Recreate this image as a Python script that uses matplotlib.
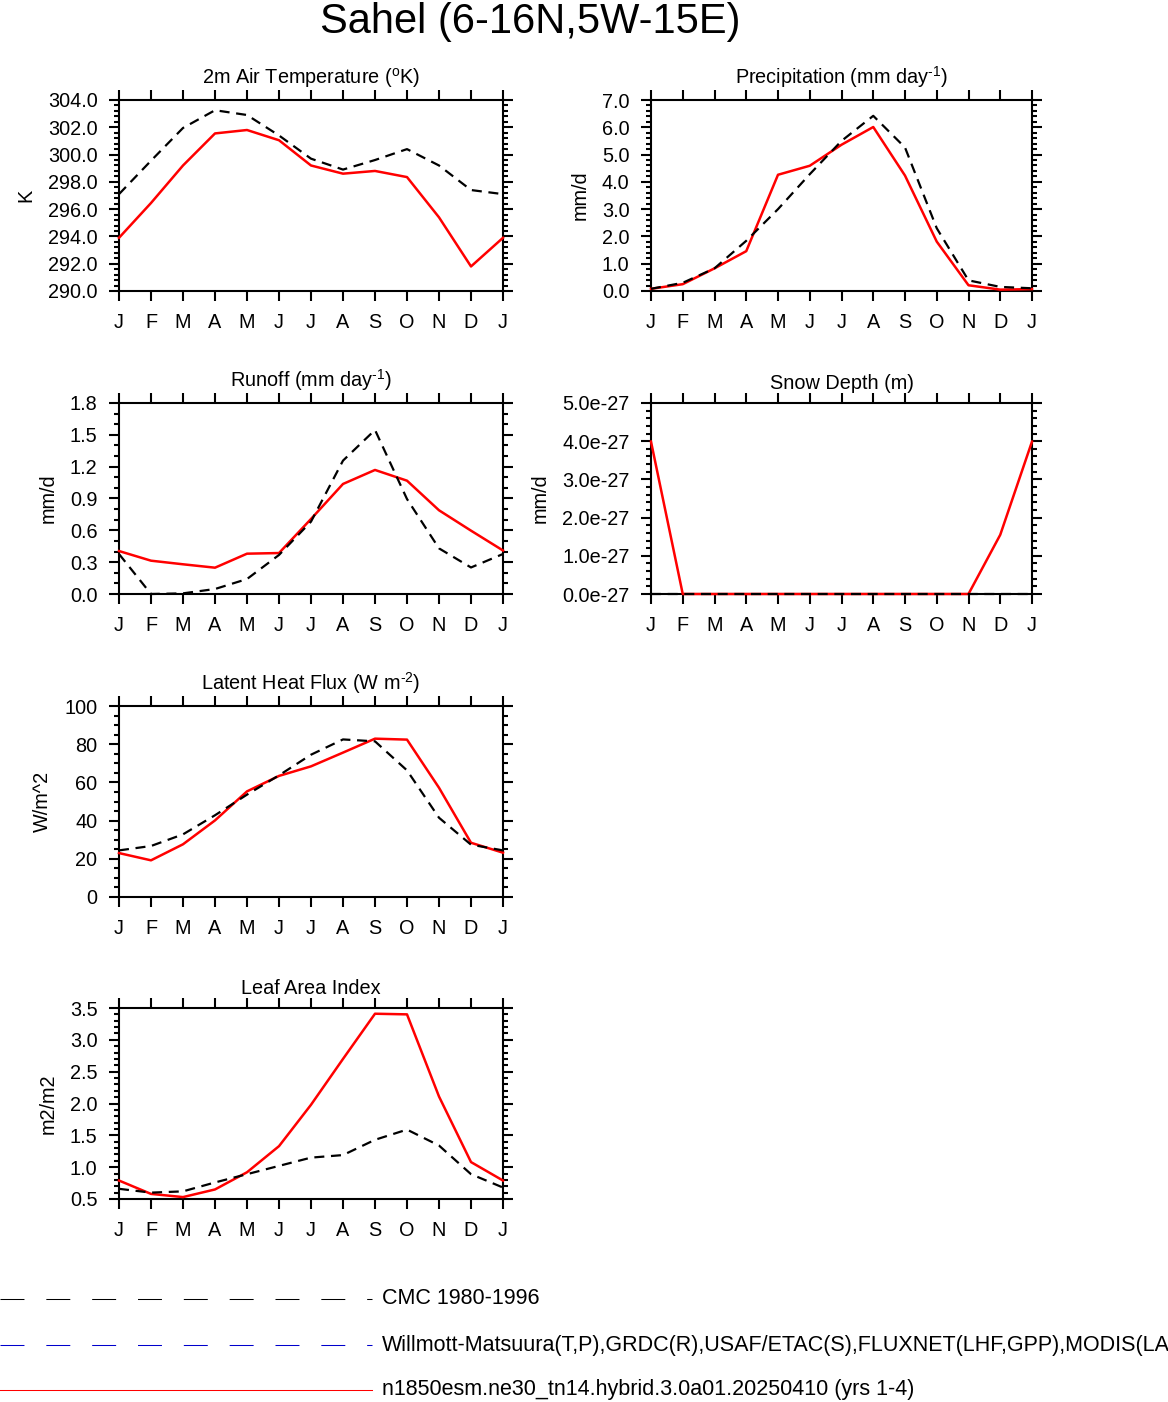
import numpy as np
import matplotlib
matplotlib.use('Agg')
from matplotlib import pyplot as plt
from matplotlib.lines import Line2D
from matplotlib.ticker import MultipleLocator, FormatStrFormatter, FuncFormatter

plt.rcParams['font.family'] = ['Liberation Sans', 'DejaVu Sans']
plt.rcParams['mathtext.fontset'] = 'custom'
plt.rcParams['mathtext.rm'] = 'Liberation Sans'

months = ['J', 'F', 'M', 'A', 'M', 'J', 'J', 'A', 'S', 'O', 'N', 'D', 'J']

# model (red) and observations (black dashed), Jan..Dec + Jan
tsa_model = [293.9, 296.45, 299.2, 301.55, 301.8, 301.05, 299.2, 298.6, 298.8, 298.35, 295.4, 291.8, 293.9]
tsa_obs = [297.1, 299.55, 301.95, 303.25, 302.9, 301.4, 299.7, 298.9, 299.6, 300.4, 299.2, 297.4, 297.1]

prec_model = [0.08, 0.25, 0.83, 1.46, 4.26, 4.59, 5.36, 6.01, 4.23, 1.81, 0.21, 0.05, 0.07]
prec_obs = [0.08, 0.3, 0.83, 1.84, 3.0, 4.28, 5.5, 6.42, 5.26, 2.3, 0.39, 0.15, 0.1]

qrunoff_model = [0.405, 0.314, 0.28, 0.248, 0.38, 0.386, 0.707, 1.037, 1.169, 1.068, 0.789, 0.597, 0.41]
qrunoff_obs = [0.377, 0.0, 0.006, 0.047, 0.141, 0.368, 0.682, 1.257, 1.546, 0.895, 0.43, 0.25, 0.377]

snowdp_model = [3.99e-27, 0, 0, 0, 0, 0, 0, 0, 0, 0, 0, 1.55e-27, 3.99e-27]
snowdp_obs = [0, 0, 0, 0, 0, 0, 0, 0, 0, 0, 0, 0, 0]

lhf_model = [23.0, 19.2, 27.6, 40.1, 55.3, 63.4, 68.4, 75.6, 82.9, 82.4, 57.2, 28.4, 23.2]
lhf_obs = [24.4, 26.7, 32.8, 42.8, 53.6, 63.7, 74.5, 82.5, 81.5, 66.3, 41.5, 27.4, 24.4]

lai_model = [0.79, 0.58, 0.53, 0.65, 0.92, 1.33, 1.98, 2.70, 3.41, 3.40, 2.11, 1.08, 0.79]
lai_obs = [0.66, 0.60, 0.62, 0.76, 0.89, 1.02, 1.15, 1.19, 1.43, 1.59, 1.34, 0.89, 0.68]

legend_labels = ['CMC 1980-1996',
                 'Willmott-Matsuura(T,P),GRDC(R),USAF/ETAC(S),FLUXNET(LHF,GPP),MODIS(LAI)',
                 'n1850esm.ne30_tn14.hybrid.3.0a01.20250410 (yrs 1-4)']

W, H = 1168, 1402
fig = plt.figure(figsize=(W / 100, H / 100), dpi=100)


def px_rect(x0, y0, x1, y1):
    return [x0 / W, 1 - y1 / H, (x1 - x0) / W, (y1 - y0) / H]


def draw_panel(rect, title, ylabel, model, obs, ylim, major, minor, fmt):
    ax = fig.add_axes(rect)
    x = np.arange(len(months))
    ax.plot(x, model, color='red', lw=1.8, clip_on=False, zorder=3)
    ax.plot(x, obs, color='black', lw=1.6, ls=(0, (4.5, 3)), clip_on=False, zorder=4)
    ax.set_xlim(0, 12)
    ax.set_ylim(*ylim)
    ax.set_xticks(x)
    ax.set_xticklabels(months)
    ax.yaxis.set_major_locator(MultipleLocator(major))
    ax.yaxis.set_minor_locator(MultipleLocator(minor))
    ax.yaxis.set_major_formatter(fmt)
    ax.tick_params(which='both', direction='out', top=True, right=True, width=1.5, labelsize=14.3)
    ax.tick_params(which='major', length=7.5, pad=8)
    ax.tick_params(which='minor', length=3.5)
    ax.tick_params(axis='x', which='minor', length=0)
    for s in ax.spines.values():
        s.set_linewidth(1.5)
    ax.text(0.5, 1.05, title, transform=ax.transAxes, ha='center', va='bottom', fontsize=14.3)
    ax.set_ylabel(ylabel, fontsize=14.3, labelpad=9)
    return ax


L = (119, 503)
R = (651, 1032)
rows = [(100, 291), (403, 594), (706, 897), (1008, 1199)]

draw_panel(px_rect(L[0], rows[0][0], L[1], rows[0][1]), r'2m Air Temperature ($^{\rm o}$K)', 'K',
           tsa_model, tsa_obs, (290, 304), 2, 0.4, FormatStrFormatter('%.1f'))
draw_panel(px_rect(R[0], rows[0][0], R[1], rows[0][1]), r'Precipitation (mm day$^{\text{-1}}$)', 'mm/d',
           prec_model, prec_obs, (0, 7), 1, 0.2, FormatStrFormatter('%.1f'))
draw_panel(px_rect(L[0], rows[1][0], L[1], rows[1][1]), r'Runoff (mm day$^{\text{-1}}$)', 'mm/d',
           qrunoff_model, qrunoff_obs, (0, 1.8), 0.3, 0.1, FormatStrFormatter('%.1f'))
draw_panel(px_rect(R[0], rows[1][0], R[1], rows[1][1]), 'Snow Depth (m)', 'mm/d',
           snowdp_model, snowdp_obs, (0, 5e-27), 1e-27, 0.2e-27,
           FuncFormatter(lambda v, p: '%.1fe-27' % (v / 1e-27)))
draw_panel(px_rect(L[0], rows[2][0], L[1], rows[2][1]), r'Latent Heat Flux (W m$^{\text{-2}}$)', 'W/m^2',
           lhf_model, lhf_obs, (0, 100), 20, 5, FormatStrFormatter('%d'))
draw_panel(px_rect(L[0], rows[3][0], L[1], rows[3][1]), 'Leaf Area Index', 'm2/m2',
           lai_model, lai_obs, (0.5, 3.5), 0.5, 0.1, FormatStrFormatter('%.1f'))

fig.text(530 / W, 1 - 33 / H, 'Sahel (6-16N,5W-15E)', ha='center', va='baseline', fontsize=30)

# legend at the bottom
leg_y = [1299, 1345, 1390]
leg_style = [dict(color='black', ls=(0, (23, 21))),
             dict(color='#0000cc', ls=(0, (23, 21))),
             dict(color='red', ls='-')]
for yy, lab, st in zip(leg_y, legend_labels, leg_style):
    fig.add_artist(Line2D([0, 372 / W], [1 - yy / H, 1 - yy / H], transform=fig.transFigure,
                          lw=0.75, **st))
    fig.text(382 / W, 1 - yy / H, lab, ha='left', va='center', fontsize=15.5)

fig.savefig('out.png', dpi=100)
